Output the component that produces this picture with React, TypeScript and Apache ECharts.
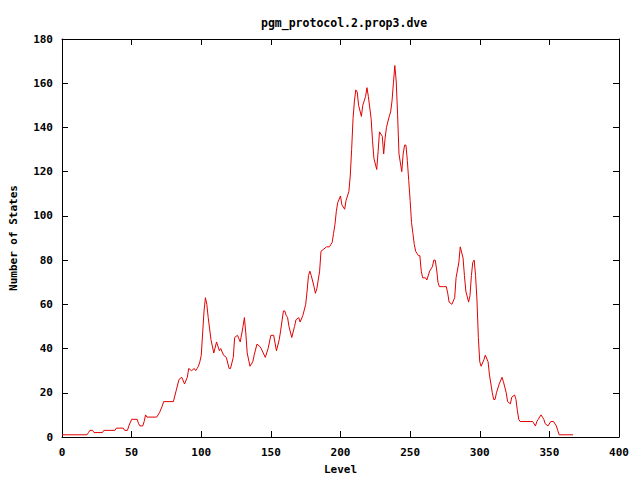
import React, { useEffect, useRef } from "react";
import * as echarts from "echarts";

const TITLE = "pgm_protocol.2.prop3.dve";
const X_NAME = "Level";
const Y_NAME = "Number of States";

// [level, number of states]
const levels: number[] = [
  0, 18, 19, 20, 22, 23, 29, 30, 38, 39, 44, 45, 47, 48, 50, 54, 55, 56, 58, 59,
  60, 61, 68, 70, 72, 73, 80, 82, 84, 86, 88, 90, 91, 93, 95, 96, 97, 98, 99, 100,
  101, 102, 103, 104, 105, 107, 109, 111, 113, 114, 116, 118, 120, 121, 123, 124, 126, 128, 130, 131,
  132, 133, 135, 137, 138, 140, 142, 143, 146, 148, 150, 152, 154, 156, 157, 159, 160, 161, 162, 163,
  165, 167, 168, 170, 171, 173, 175, 176, 177, 178, 179, 181, 182, 183, 185, 186, 188, 190, 192, 194,
  195, 196, 197, 198, 200, 201, 203, 204, 206, 207, 208, 209, 210, 211, 212, 213, 215, 216, 218, 219,
  220, 222, 223, 224, 226, 227, 228, 230, 231, 232, 233, 235, 236, 237, 238, 239, 240, 241, 242, 244,
  245, 246, 247, 248, 249, 250, 251, 252, 253, 254, 255, 256, 257, 258, 259, 261, 262, 264, 266, 267,
  268, 269, 270, 271, 274, 276, 277, 278, 280, 282, 283, 285, 286, 288, 289, 290, 292, 293, 294, 295,
  296, 297, 298, 299, 300, 301, 303, 304, 306, 307, 309, 310, 311, 312, 314, 316, 317, 319, 320, 322,
  323, 325, 326, 327, 328, 329, 338, 340, 341, 342, 344, 345, 346, 347, 349, 351, 353, 355, 356, 357,
  367,
];
const states: number[] = [
  1, 1, 2, 3, 3, 2, 2, 3, 3, 4, 4, 3, 3, 5, 8, 8, 6, 5, 5, 7,
  10, 9, 9, 11, 14, 16, 16, 21, 26, 27, 24, 27, 31, 30, 31, 30, 31, 32, 34, 37,
  47, 57, 63, 60, 54, 44, 38, 43, 39, 40, 37, 36, 31, 31, 36, 45, 46, 43, 50, 54,
  47, 38, 32, 34, 37, 42, 41, 40, 36, 40, 46, 46, 39, 44, 48, 57, 57, 55, 54, 50,
  45, 50, 53, 54, 52, 55, 60, 66, 73, 75, 73, 68, 65, 67, 75, 84, 85, 86, 86, 88,
  92, 96, 102, 106, 109, 105, 103, 107, 111, 118, 130, 144, 152, 157, 156, 150, 145, 150, 154, 158,
  154, 144, 134, 126, 121, 129, 138, 136, 128, 135, 140, 145, 147, 152, 160, 168, 161, 146, 128, 120,
  128, 132, 132, 125, 116, 107, 97, 92, 87, 84, 83, 82, 82, 75, 72, 72, 71, 75, 77, 80,
  80, 76, 70, 68, 68, 68, 65, 61, 60, 63, 72, 79, 86, 81, 73, 66, 61, 64, 73, 79,
  80, 73, 62, 45, 34, 32, 35, 37, 34, 28, 20, 17, 17, 20, 24, 27, 25, 20, 16, 15,
  18, 19, 17, 12, 8, 7, 7, 5, 7, 8, 10, 9, 8, 6, 5, 7, 7, 5, 3, 1,
  1,
];

const X_MIN = 0, X_MAX = 400, X_STEP = 50;
const Y_MIN = 0, Y_MAX = 180, Y_STEP = 20;

const FONT = "'DejaVu Sans Mono', monospace";

export default function App() {
  const ref = useRef<HTMLDivElement>(null);
  useEffect(() => {
    if (!ref.current) return;
    const chart = echarts.init(ref.current, null, { renderer: "svg" });
    const data = levels.map((l, i) => [l, states[i]]);
    const axisCommon = {
      axisLine: { show: true, onZero: false, lineStyle: { color: "#000", width: 1 } },
      axisTick: { show: true, inside: true, length: 6, lineStyle: { color: "#000" } },
      splitLine: { show: false },
    };
    const labelStyle = { color: "#000", fontFamily: FONT, fontWeight: "bold" as const, fontSize: 11 };
    chart.setOption({
      animation: false,
      backgroundColor: "#fff",
      title: {
        text: TITLE,
        left: 256,
        top: 12,
        textStyle: { color: "#000", fontFamily: FONT, fontWeight: "bold", fontSize: 11.5 },
      },
      grid: { left: 62, right: 21, top: 39, bottom: 41, containLabel: false },
      xAxis: [
        {
          type: "value", min: X_MIN, max: X_MAX, interval: X_STEP, position: "bottom",
          name: X_NAME, nameLocation: "middle", nameGap: 27,
          nameTextStyle: labelStyle,
          axisLabel: { ...labelStyle, margin: 10 },
          ...axisCommon,
        },
        {
          type: "value", min: X_MIN, max: X_MAX, interval: X_STEP, position: "top",
          axisLabel: { show: false },
          ...axisCommon,
        },
      ],
      yAxis: [
        {
          type: "value", min: Y_MIN, max: Y_MAX, interval: Y_STEP, position: "left",
          name: Y_NAME, nameLocation: "middle", nameGap: 43, nameRotate: 90,
          nameTextStyle: labelStyle,
          axisLabel: { ...labelStyle, margin: 9 },
          ...axisCommon,
        },
        {
          type: "value", min: Y_MIN, max: Y_MAX, interval: Y_STEP, position: "right",
          axisLabel: { show: false },
          ...axisCommon,
        },
      ],
      series: [
        {
          type: "line",
          data,
          xAxisIndex: 0,
          yAxisIndex: 0,
          showSymbol: false,
          symbol: "none",
          lineStyle: { color: "#e00000", width: 1 },
        },
      ],
    });
    return () => chart.dispose();
  }, []);
  return (
    <div
      ref={ref}
      style={{ position: "fixed", left: 0, top: 0, width: 640, height: 480, background: "#fff" }}
    />
  );
}
